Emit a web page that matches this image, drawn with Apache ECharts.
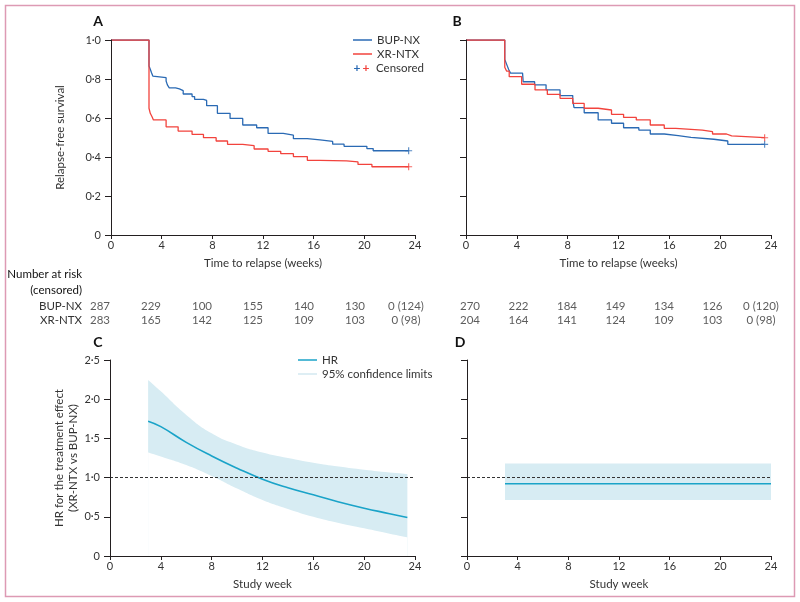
<!DOCTYPE html>
<html><head><meta charset="utf-8">
<script src="https://cdn.jsdelivr.net/npm/echarts@6/dist/echarts.min.js"></script>
<style>html,body{margin:0;padding:0;background:#fff}#c{width:800px;height:602px}</style>
</head><body><div id="c"></div>
<script>
// ---------- data ----------
const weekTicks = [0, 4, 8, 12, 16, 20, 24];
// Kaplan-Meier, panel A (weeks, relapse-free survival)
const kmBupA = [[0,1],[3.0,0.867],[3.1,0.850],[3.2,0.832],[3.3,0.815],[3.4,0.807],[4.35,0.790],[4.45,0.770],[4.6,0.755],[5.1,0.749],[5.4,0.740],[5.7,0.723],[6.4,0.710],[6.6,0.696],[7.3,0.690],[7.55,0.663],[8.4,0.624],[9.4,0.598],[10.4,0.564],[11.5,0.550],[12.4,0.521],[13.6,0.512],[14.4,0.494],[15.5,0.488],[16.5,0.480],[17.5,0.466],[18.4,0.455],[20.2,0.443],[20.7,0.432],[23.5,0.432]];
const kmXrA = [[0,1],[3.0,0.650],[3.1,0.624],[3.25,0.605],[3.35,0.590],[4.35,0.555],[5.3,0.533],[6.4,0.516],[7.3,0.499],[8.3,0.482],[9.2,0.465],[10.4,0.458],[11.3,0.441],[12.4,0.429],[13.4,0.417],[14.4,0.402],[15.5,0.383],[16.5,0.380],[18.6,0.375],[19.5,0.362],[20.6,0.350],[23.5,0.350]];
// panel B
const kmBupB = [[0,1],[3.05,0.900],[3.2,0.875],[3.35,0.850],[3.5,0.830],[4.45,0.820],[4.5,0.786],[5.4,0.770],[6.3,0.744],[7.4,0.715],[8.4,0.692],[8.5,0.653],[9.3,0.627],[10.4,0.590],[11.45,0.573],[12.4,0.550],[13.6,0.538],[14.5,0.518],[15.6,0.510],[16.7,0.501],[17.7,0.491],[19.5,0.482],[20.6,0.465],[23.5,0.465]];
const kmXrB = [[0,1],[3.05,0.860],[3.2,0.840],[3.4,0.812],[4.38,0.773],[5.43,0.744],[6.4,0.721],[7.4,0.701],[8.4,0.675],[9.3,0.650],[10.4,0.641],[11.45,0.619],[12.4,0.603],[13.4,0.590],[14.5,0.564],[15.6,0.547],[16.5,0.538],[18.6,0.530],[19.4,0.518],[20.5,0.508],[20.9,0.499],[23.5,0.499]];
// censoring marks
const censBupA = [[23.5,0.432]];
const censXrA  = [[23.5,0.350]];
const censBupB = [[23.5,0.465]];
const censXrB  = [[23.5,0.499]];
// Hazard ratio, panel C
const hrWeeksC = [3, 4, 6, 8, 10, 12, 14, 16, 18, 20, 22, 23.4];
const hrC      = [1.72, 1.65, 1.45, 1.276, 1.12, 0.98, 0.87, 0.78, 0.69, 0.61, 0.54, 0.49];
const hrLowC   = [1.32, 1.27, 1.16, 1.02, 0.86, 0.714, 0.60, 0.50, 0.42, 0.353, 0.285, 0.238];
const hrUpC    = [2.245, 2.10, 1.80, 1.565, 1.42, 1.32, 1.25, 1.19, 1.14, 1.10, 1.065, 1.046];
// panel D
const hrWeeksD = [3, 24];
const hrD      = [0.922, 0.922];
const hrLowD   = [0.714, 0.714];
const hrUpD    = [1.18, 1.18];
// number at risk (censored)
const riskWeeks = [0, 4, 8, 12, 16, 20, 24];
const riskGroups = ['BUP-NX', 'XR-NTX'];
const riskBupA = ['287','229','100','155','140','130','0 (124)'];
const riskXrA  = ['283','165','142','125','109','103','0 (98)'];
const riskBupB = ['270','222','184','149','134','126','0 (120)'];
const riskXrB  = ['204','164','141','124','109','103','0 (98)'];

// ---------- style ----------
const FONT = 'Lato, "Open Sans", sans-serif';
const BLUE = '#2a6ab4', RED = '#f2433d', TEAL = '#1aa3c8', BAND = '#d7ecf3', INK = '#231f20', TXT = '#333';
const fmt = v => v === 0 ? '0' : v.toFixed(1).replace('.', '\u00b7');
const plus = 'path://M4.2,0H5.8V10H4.2ZM0,4.2H10V5.8H0Z';

function xAx(gi, name, show) {
  return {type:'value', gridIndex:gi, min:0, max:24, interval:4, z:10,
    axisLine:{show:show, lineStyle:{color:INK, width:1}},
    axisTick:{show:show, length:4, lineStyle:{color:INK}},
    axisLabel:{show:show, color:TXT, fontSize:11, margin:5, fontFamily:FONT},
    splitLine:{show:false},
    name: name, nameLocation:'middle', nameGap:22,
    nameTextStyle:{color:TXT, fontSize:11.5, fontFamily:FONT}};
}
function yAx(gi, max, interval, labels, name, gap) {
  return {type:'value', gridIndex:gi, min:0, max:max, interval:interval, z:10,
    axisLine:{show:true, lineStyle:{color:INK, width:1}},
    axisTick:{show:true, length:6, lineStyle:{color:INK}},
    axisLabel:{show:labels, color:TXT, fontSize:11, margin:10, fontFamily:FONT, formatter:fmt},
    splitLine:{show:false},
    name: name || '', nameLocation:'middle', nameGap:gap || 40,
    nameTextStyle:{color:TXT, fontSize:11.5, fontFamily:FONT, lineHeight:14}};
}
const zip = (xs, ys) => xs.map((x, i) => [x, ys[i]]);

function km(name, data, color, gi) {
  return {name, type:'line', xAxisIndex:gi, yAxisIndex:gi, step:'end', data,
    symbol:'none', lineStyle:{color, width:1.3}, itemStyle:{color}, z:3, silent:true};
}
function cens(data, color, gi) {
  return {name:'Censored', type:'scatter', xAxisIndex:gi, yAxisIndex:gi, data,
    symbol:plus, symbolSize:7, itemStyle:{color}, z:4, silent:true};
}
// confidence band: upper curve filled down to the axis, lower curve filled with background
function band(weeks, low, up, gi) {
  return [
    {name:'95% confidence limits', type:'line', xAxisIndex:gi, yAxisIndex:gi, data:zip(weeks, up),
     symbol:'none', smooth:true, lineStyle:{width:0, color:BAND}, itemStyle:{color:BAND},
     areaStyle:{color:BAND, opacity:1, origin:'start'}, silent:true, z:1},
    {name:'lowerLimit', type:'line', xAxisIndex:gi, yAxisIndex:gi, data:zip(weeks, low),
     symbol:'none', smooth:true, lineStyle:{width:0, color:'#fff'}, itemStyle:{color:'#fff'},
     areaStyle:{color:'#fff', opacity:1, origin:'start'}, silent:true, z:2}
  ];
}
function hrLine(weeks, vals, gi) {
  return {name:'HR', type:'line', xAxisIndex:gi, yAxisIndex:gi, data:zip(weeks, vals), smooth:true,
    symbol:'none', lineStyle:{color:TEAL, width:1.6}, itemStyle:{color:TEAL}, z:3, silent:true,
    markLine:{silent:true, symbol:'none', label:{show:false},
      lineStyle:{color:'#333', type:[3,2], width:1}, data:[{yAxis:1}]}};
}
function riskSeries(gi, vals, group) {
  return {type:'scatter', xAxisIndex:gi, yAxisIndex:gi, silent:true,
    data: riskWeeks.map((w, i) => [w, group, vals[i]]),
    symbol:'circle', symbolSize:1, itemStyle:{color:'rgba(0,0,0,0)'},
    label:{show:true, position:'inside', color:TXT, fontSize:11.5, fontFamily:FONT,
      formatter:p => p.value[2]}};
}
const legendText = {color:TXT, fontSize:11.5, fontFamily:FONT, lineHeight:14};

const option = {
  backgroundColor:'#fff',
  animation:false,
  textStyle:{fontFamily:FONT},
  grid:[
    {left:111, top:40, width:304, height:195},
    {left:466, top:40, width:305, height:195},
    {left:110, top:360, width:305, height:196},
    {left:467, top:360, width:304, height:196},
    {left:100, top:299, width:306, height:28},
    {left:470, top:299, width:291, height:28}
  ],
  xAxis:[
    xAx(0, 'Time to relapse (weeks)', true),
    xAx(1, 'Time to relapse (weeks)', true),
    xAx(2, 'Study week', true),
    xAx(3, 'Study week', true),
    xAx(4, '', false),
    xAx(5, '', false)
  ],
  yAxis:[
    yAx(0, 1, 0.2, true, 'Relapse-free survival', 44),
    yAx(1, 1, 0.2, false),
    yAx(2, 2.5, 0.5, true, 'HR for the treatment effect\n(XR-NTX vs BUP-NX)', 27),
    yAx(3, 2.5, 0.5, false),
    {type:'category', gridIndex:4, data:riskGroups, inverse:true, axisLine:{show:false}, axisTick:{show:false},
     axisLabel:{show:true, interval:0, color:TXT, fontSize:11.5, fontFamily:FONT, margin:18, align:'right'}},
    {type:'category', gridIndex:5, data:riskGroups, inverse:true, axisLine:{show:false}, axisTick:{show:false},
     axisLabel:{show:false}}
  ],
  legend:[
    {data:['BUP-NX','XR-NTX'], orient:'vertical', left:353, top:33, icon:'rect', itemWidth:19, itemHeight:1.5, itemGap:0,
     selectedMode:false, textStyle:legendText, padding:0},
    {data:['HR', {name:'95% confidence limits', itemStyle:{color:'#d3e9f1'}}], orient:'vertical', left:298, top:353,
     icon:'rect', itemWidth:19, itemHeight:1.5, itemGap:0, selectedMode:false, textStyle:legendText, padding:0}
  ],
  series:[
    km('BUP-NX', kmBupA, BLUE, 0), km('XR-NTX', kmXrA, RED, 0),
    km('BUP-NX', kmBupB, BLUE, 1), km('XR-NTX', kmXrB, RED, 1),
    cens(censBupA, BLUE, 0), cens(censXrA, RED, 0), cens(censBupB, BLUE, 1), cens(censXrB, RED, 1),
    ...band(hrWeeksC, hrLowC, hrUpC, 2), hrLine(hrWeeksC, hrC, 2),
    ...band(hrWeeksD, hrLowD, hrUpD, 3), hrLine(hrWeeksD, hrD, 3),
    riskSeries(4, riskBupA, 'BUP-NX'), riskSeries(4, riskXrA, 'XR-NTX'),
    riskSeries(5, riskBupB, 'BUP-NX'), riskSeries(5, riskXrB, 'XR-NTX')
  ],
  graphic:[
    {type:'rect', shape:{x:5.5, y:5.5, width:789, height:591}, style:{fill:'none', stroke:'#dd9ab4', lineWidth:1.5}, silent:true},
    {type:'text', x:98, y:21, style:{text:'A', font:'bold 14px '+FONT, fill:'#111', align:'center', verticalAlign:'middle'}},
    {type:'text', x:457, y:21, style:{text:'B', font:'bold 14px '+FONT, fill:'#111', align:'center', verticalAlign:'middle'}},
    {type:'text', x:98, y:342, style:{text:'C', font:'bold 14px '+FONT, fill:'#111', align:'center', verticalAlign:'middle'}},
    {type:'text', x:460, y:342, style:{text:'D', font:'bold 14px '+FONT, fill:'#111', align:'center', verticalAlign:'middle'}},
    {type:'text', x:357, y:68, style:{text:'+', font:'bold 12px '+FONT, fill:BLUE, align:'center', verticalAlign:'middle'}},
    {type:'text', x:366, y:68, style:{text:'+', font:'bold 12px '+FONT, fill:RED, align:'center', verticalAlign:'middle'}},
    {type:'text', x:376, y:68, style:{text:'Censored', font:'11.5px '+FONT, fill:TXT, align:'left', verticalAlign:'middle'}},
    {type:'text', x:82, y:274, style:{text:'Number at risk', font:'11.5px '+FONT, fill:'#111', align:'right', verticalAlign:'middle'}},
    {type:'text', x:82, y:290, style:{text:'(censored)', font:'11.5px '+FONT, fill:'#111', align:'right', verticalAlign:'middle'}}
  ]
};
const chart = echarts.init(document.getElementById('c'), null, {renderer:'canvas'});
chart.setOption(option);
</script></body></html>
